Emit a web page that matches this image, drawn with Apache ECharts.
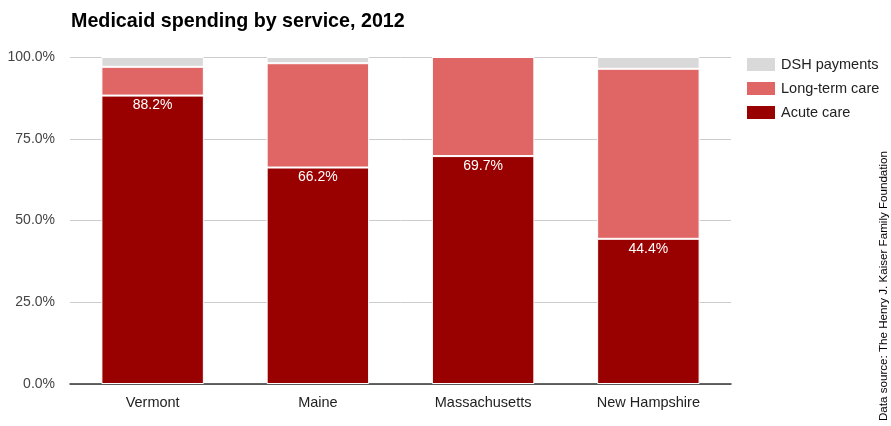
<!DOCTYPE html>
<html><head><meta charset="utf-8">
<script src="https://cdn.jsdelivr.net/npm/echarts@6/dist/echarts.min.js"></script>
<style>html,body{margin:0;padding:0;background:#fff}#c{width:891px;height:426px}</style>
</head><body><div id="c"></div>
<script>
const categories = ['Vermont', 'Maine', 'Massachusetts', 'New Hampshire'];
const acuteCare = [88.2, 66.2, 69.7, 44.4];
const longTermCare = [8.8, 31.9, 30.3, 52.0];
const dshPayments = [3.0, 1.9, 0, 3.6];
const yTicks = [0, 25, 50, 75, 100];

const chart = echarts.init(document.getElementById('c'));
const font = 'Liberation Sans, Arial, sans-serif';
chart.setOption({
  animation: false,
  textStyle: {fontFamily: font},
  title: {text: 'Medicaid spending by service, 2012', left: 71, top: 12, padding: 0,
    textStyle: {fontSize: 19.7, fontWeight: 'bold', color: '#000', fontFamily: font}},
  legend: {orient: 'vertical', left: 745, top: 56, padding: 0, itemWidth: 30, itemHeight: 15, itemGap: 7,
    icon: 'rect', data: ['DSH payments', 'Long-term care', 'Acute care'],
    textStyle: {fontSize: 14.5, color: '#222', fontFamily: font}},
  grid: {left: 70, right: 160, top: 57, bottom: 42},
  xAxis: {type: 'category', data: categories,
    axisLine: {lineStyle: {color: '#333', width: 1.5}}, axisTick: {show: false},
    axisLabel: {fontSize: 14.5, color: '#222', margin: 11, fontFamily: font}},
  yAxis: {type: 'value', min: yTicks[0], max: yTicks[yTicks.length - 1], interval: 25,
    axisLine: {show: false}, axisTick: {show: false},
    splitLine: {lineStyle: {color: '#ccc'}},
    axisLabel: {fontSize: 14, color: '#444', margin: 15, fontFamily: font,
      formatter: v => v.toFixed(1) + '%'}},
  graphic: [{type: 'text', x: 884, y: 421, rotation: Math.PI / 2,
    style: {text: 'Data source: The Henry J. Kaiser Family Foundation', fontSize: 11.6,
      fill: '#000', fontFamily: font, align: 'left', verticalAlign: 'middle'}}],
  series: [
    {name: 'Acute care', type: 'bar', stack: 's', data: acuteCare, barWidth: '62%',
      itemStyle: {color: '#990000', borderColor: '#fff', borderWidth: 1},
      label: {show: true, position: 'insideTop', distance: 3, color: '#fff', fontSize: 14,
        fontFamily: font, formatter: p => p.value.toFixed(1) + '%'}},
    {name: 'Long-term care', type: 'bar', stack: 's', data: longTermCare,
      itemStyle: {color: '#e06666', borderColor: '#fff', borderWidth: 1}},
    {name: 'DSH payments', type: 'bar', stack: 's', data: dshPayments,
      itemStyle: {color: '#d9d9d9', borderColor: '#fff', borderWidth: 1}}
  ]
});
</script></body></html>
